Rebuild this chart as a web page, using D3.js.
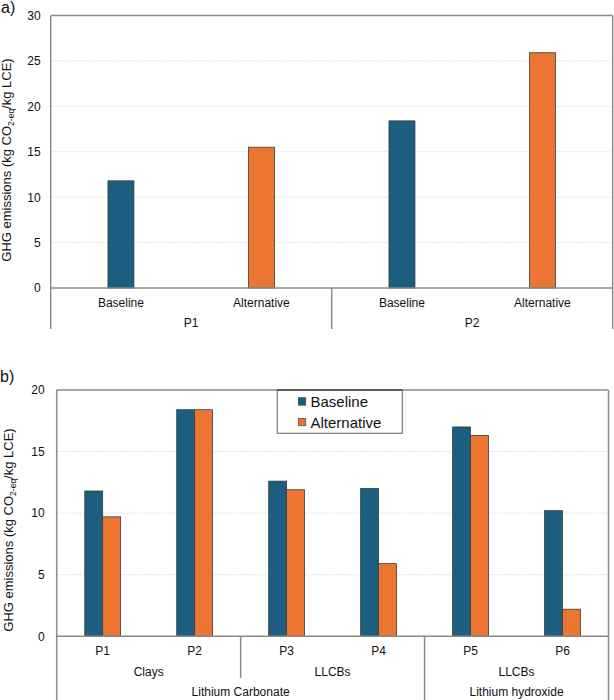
<!DOCTYPE html>
<html>
<head>
<meta charset="utf-8">
<script src="https://cdn.jsdelivr.net/npm/d3@7"></script>
<style>
  html, body { margin: 0; padding: 0; background: #fff; }
  svg { display: block; font-family: "Liberation Sans", Arial, sans-serif; }
</style>
</head>
<body>
<svg id="chart" width="614" height="700"></svg>
<script>
// ---------- DATA ----------
const seriesNames = ["Baseline", "Alternative"];
const seriesColors = ["#1b5e80", "#ec7532"];

// Panel a
const aProcesses = ["P1", "P2"];
const aCategories = ["Baseline", "Alternative", "Baseline", "Alternative"];
const aValues = [11.8, 15.5, 18.4, 25.9];
const aTicks = [0, 5, 10, 15, 20, 25, 30];

// Panel b
const bProcesses = ["P1", "P2", "P3", "P4", "P5", "P6"];
const bBaseline = [11.8, 18.4, 12.6, 12.0, 17.0, 10.2];
const bAlternative = [9.7, 18.4, 11.9, 5.9, 16.3, 2.2];
const bSources = ["Clays", "LLCBs", "LLCBs"];
const bProducts = ["Lithium Carbonate", "Lithium hydroxide"];
const bProductSpan = [2, 1]; // number of source groups per product
const bTicks = [0, 5, 10, 15, 20];

// ---------- DRAW ----------
const svg = d3.select("#chart");
const axisColor = "#8a8a8a";
const gridColor = "#e3e3e3";

function yTitle(g, x, y) {
  const t = g.append("text")
    .attr("transform", `translate(${x},${y}) rotate(-90)`)
    .attr("text-anchor", "middle")
    .attr("font-size", 13)
    .attr("fill", "#111");
  t.append("tspan").text("GHG emissions (kg CO");
  t.append("tspan").attr("font-size", 8.5).attr("dy", 3).text("2-eq");
  t.append("tspan").attr("dy", -3).text("/kg LCE)");
}

// ===== Panel a =====
{
  const L = 50.7, R = 612.7, T = 15.5, B = 288;
  const y = d3.scaleLinear().domain([0, 30]).range([B, T]);
  const x = d3.scaleBand().domain(d3.range(aCategories.length)).range([L, R]).padding(0);
  const g = svg.append("g");

  // grid
  g.selectAll("line.grid").data(aTicks.filter(d => d > 0 && d < 30)).join("line")
    .attr("x1", L).attr("x2", R).attr("y1", d => y(d)).attr("y2", d => y(d))
    .attr("stroke", gridColor).attr("stroke-dasharray", "2,1");

  // y axis labels
  const ax = d3.axisLeft(y).tickValues(aTicks).tickSize(0).tickPadding(10);
  const ag = g.append("g").attr("transform", `translate(${L},0)`).call(ax);
  ag.select(".domain").remove();
  ag.selectAll("text").attr("font-size", 12).attr("fill", "#111").attr("font-family", "Liberation Sans, Arial, sans-serif");

  // bars
  const bw = x.bandwidth() * 0.185;
  g.selectAll("rect.bar").data(aValues).join("rect")
    .attr("x", (d, i) => x(i) + x.bandwidth() / 2 - bw / 2)
    .attr("y", d => y(d))
    .attr("width", bw)
    .attr("height", d => y(0) - y(d))
    .attr("fill", (d, i) => seriesColors[i % 2])
    .attr("stroke", "#3c3c3c").attr("stroke-width", 0.8);

  // frame
  const fr = g.append("g").attr("stroke", axisColor).attr("stroke-width", 1.5).attr("fill", "none");
  fr.append("line").attr("x1", L).attr("x2", R).attr("y1", T).attr("y2", T);
  fr.append("line").attr("x1", L).attr("x2", L).attr("y1", T).attr("y2", 329);
  fr.append("line").attr("x1", R).attr("x2", R).attr("y1", T).attr("y2", 329);
  fr.append("line").attr("x1", L).attr("x2", R).attr("y1", B).attr("y2", B);
  fr.append("line").attr("x1", x(2)).attr("x2", x(2)).attr("y1", B).attr("y2", 329);

  // category labels
  g.selectAll("text.cat").data(aCategories).join("text")
    .attr("x", (d, i) => x(i) + x.bandwidth() / 2).attr("y", 307)
    .attr("text-anchor", "middle").attr("font-size", 12).attr("fill", "#111").text(d => d);
  g.selectAll("text.proc").data(aProcesses).join("text")
    .attr("x", (d, i) => x(i * 2) + x.bandwidth()).attr("y", 327)
    .attr("text-anchor", "middle").attr("font-size", 12).attr("fill", "#111").text(d => d);

  yTitle(g, 11, 160);
  g.append("text").attr("x", 1).attr("y", 13).attr("font-size", 16).attr("fill", "#111").text("a)");
}

// ===== Panel b =====
{
  const L = 56.7, R = 608.5, T = 390, B = 636.3;
  const y = d3.scaleLinear().domain([0, 20]).range([B, T]);
  const x = d3.scaleBand().domain(bProcesses).range([L, R]).padding(0);
  const g = svg.append("g");

  g.selectAll("line.grid").data(bTicks.filter(d => d > 0 && d < 20)).join("line")
    .attr("x1", L).attr("x2", R).attr("y1", d => y(d)).attr("y2", d => y(d))
    .attr("stroke", gridColor).attr("stroke-dasharray", "2,1");

  const ax = d3.axisLeft(y).tickValues(bTicks).tickSize(0).tickPadding(12);
  const ag = g.append("g").attr("transform", `translate(${L},0)`).call(ax);
  ag.select(".domain").remove();
  ag.selectAll("text").attr("font-size", 12).attr("fill", "#111").attr("font-family", "Liberation Sans, Arial, sans-serif");

  const pairW = x.bandwidth() * 0.39;
  const xs = d3.scaleBand().domain(seriesNames).range([0, pairW]).padding(0);
  const rows = bProcesses.map((p, i) => ({ p, vals: [bBaseline[i], bAlternative[i]] }));
  const grp = g.selectAll("g.grp").data(rows).join("g")
    .attr("transform", d => `translate(${x(d.p) + x.bandwidth() / 2 - pairW / 2},0)`);
  grp.selectAll("rect").data(d => d.vals.map((v, k) => ({ s: seriesNames[k], v, k }))).join("rect")
    .attr("x", d => xs(d.s))
    .attr("y", d => y(d.v))
    .attr("width", xs.bandwidth())
    .attr("height", d => y(0) - y(d.v))
    .attr("fill", d => seriesColors[d.k])
    .attr("stroke", "#3c3c3c").attr("stroke-width", 0.8);

  const fr = g.append("g").attr("stroke", axisColor).attr("stroke-width", 1.5).attr("fill", "none");
  fr.append("line").attr("x1", L).attr("x2", R).attr("y1", T).attr("y2", T);
  fr.append("line").attr("x1", L).attr("x2", L).attr("y1", T).attr("y2", 700);
  fr.append("line").attr("x1", R).attr("x2", R).attr("y1", T).attr("y2", 700);
  fr.append("line").attr("x1", L).attr("x2", R).attr("y1", B).attr("y2", B);
  fr.append("line").attr("x1", x("P3")).attr("x2", x("P3")).attr("y1", B).attr("y2", 678);
  fr.append("line").attr("x1", x("P5")).attr("x2", x("P5")).attr("y1", B).attr("y2", 700);

  g.selectAll("text.cat").data(bProcesses).join("text")
    .attr("x", d => x(d) + x.bandwidth() / 2).attr("y", 655)
    .attr("text-anchor", "middle").attr("font-size", 12).attr("fill", "#111").text(d => d);
  g.selectAll("text.src").data(bSources).join("text")
    .attr("x", (d, i) => x(bProcesses[i * 2]) + x.bandwidth()).attr("y", 676)
    .attr("text-anchor", "middle").attr("font-size", 12).attr("fill", "#111").text(d => d);
  let start = 0;
  bProducts.forEach((p, i) => {
    const n = bProductSpan[i] * 2;
    const x0 = x(bProcesses[start]);
    const x1 = x(bProcesses[start + n - 1]) + x.bandwidth();
    g.append("text").attr("x", (x0 + x1) / 2).attr("y", 696)
      .attr("text-anchor", "middle").attr("font-size", 12).attr("fill", "#111").text(p);
    start += n;
  });

  // legend
  const lg = g.append("g");
  lg.append("rect").attr("x", 277.3).attr("y", 390).attr("width", 125).attr("height", 43.3)
    .attr("fill", "#fff").attr("stroke", "#7a7a7a").attr("stroke-width", 1.2);
  lg.append("line").attr("x1", 277.3).attr("x2", 402.3).attr("y1", 390).attr("y2", 390)
    .attr("stroke", "#444").attr("stroke-width", 1.5);
  seriesNames.forEach((s, i) => {
    const cy = 401.7 + i * 20.6;
    lg.append("rect").attr("x", 298.3).attr("y", cy - 4).attr("width", 7.5).attr("height", 7.5)
      .attr("fill", seriesColors[i]).attr("stroke", "#3c3c3c").attr("stroke-width", 0.6);
    lg.append("text").attr("x", 310.5).attr("y", cy + 5.3).attr("font-size", 15).attr("fill", "#111").text(s);
  });

  yTitle(g, 13, 530);
  g.append("text").attr("x", 0).attr("y", 382).attr("font-size", 16).attr("fill", "#111").text("b)");
}
</script>
</body>
</html>
